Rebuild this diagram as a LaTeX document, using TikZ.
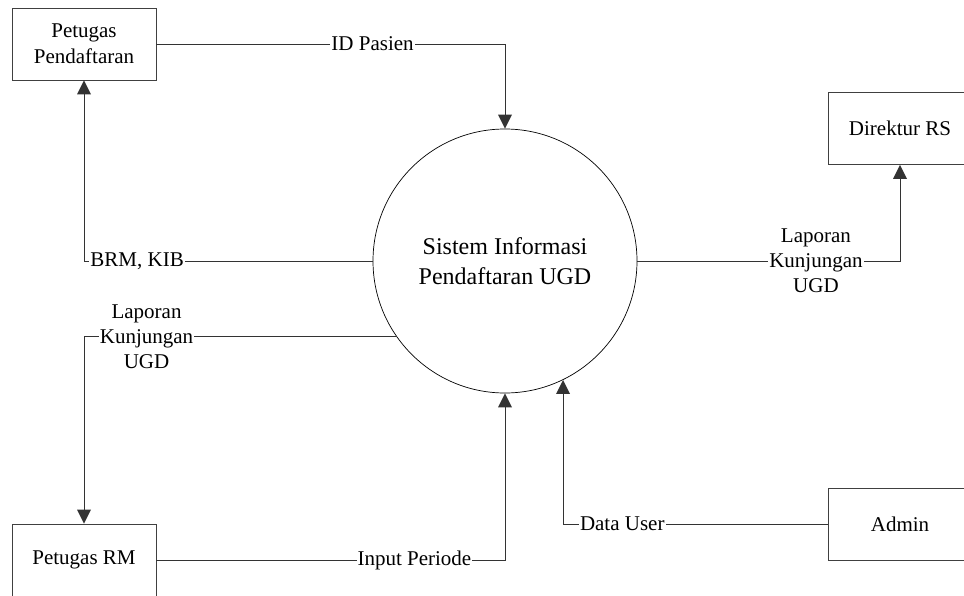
\documentclass[tikz,border=0pt]{standalone}
\usepackage{fontspec}
\setmainfont{Liberation Serif}
\usetikzlibrary{arrows.meta, positioning}

\begin{document}
\begin{tikzpicture}[
    x=1pt, y=-1pt,
    line width=0.9pt,
    entity/.style={rectangle, draw=black!75, minimum width=144pt, minimum height=72pt,
                   align=center, font=\fontsize{21}{26}\selectfont},
    proc/.style={circle, draw, line width=0.7pt, minimum size=264pt, align=center,
                 font=\fontsize{24}{30}\selectfont},
    flow/.style={draw=black!80, -{Triangle[length=14pt, width=14pt, line width=0pt]}},
    lbl/.style={fill=white, inner sep=1pt, align=center, font=\fontsize{21}{25}\selectfont}
]
\useasboundingbox (0,0) rectangle (964,595);

% --- Nodes ---
\node[proc] (sis) at (505,261) {Sistem Informasi\\Pendaftaran UGD};
\node[entity] (pp) at (84,44) {Petugas\\Pendaftaran};
\node[entity] (prm) at (84,560) {Petugas RM};
\node[entity] (dir) at (900,128.5) {Direktur RS};
\node[entity] (adm) at (900,524) {Admin};

% --- Flows ---
\draw[flow] (pp.east) -| node[lbl, pos=0.31] {ID Pasien} (sis.north);
\draw[flow] (sis.west) -| node[lbl, pos=0.408] {BRM, KIB} (pp.south);
\draw[flow] (sis.215) -| node[lbl, pos=0.4] {Laporan\\Kunjungan\\UGD} (prm.north);
\draw[flow] (sis.east) -| node[lbl, pos=0.34] {Laporan\\Kunjungan\\UGD} (dir.south);
\draw[flow] (prm.east) -| node[lbl, pos=0.37] {Input Periode} (sis.south);
\draw[flow] (adm.west) -| node[lbl, pos=0.388] {Data User} (sis.296.6);

\end{tikzpicture}
\end{document}
